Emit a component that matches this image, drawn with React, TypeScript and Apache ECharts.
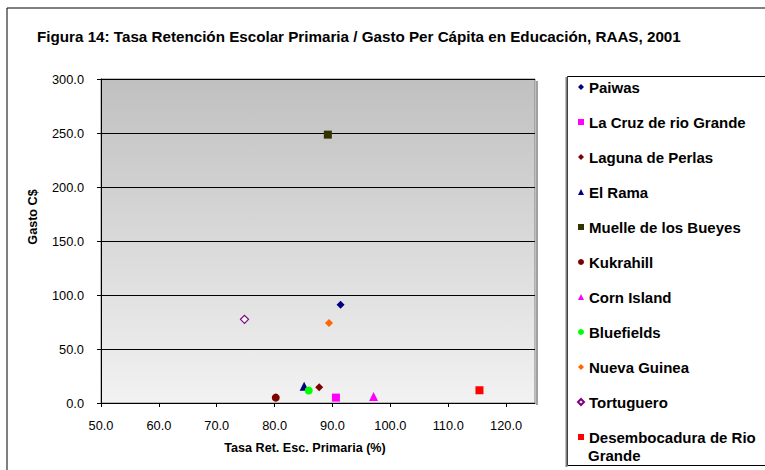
import React, { useEffect, useRef } from "react";
import * as echarts from "echarts";

const seriesNames = [
  "Paiwas",
  "La Cruz de rio Grande",
  "Laguna de Perlas",
  "El Rama",
  "Muelle de los Bueyes",
  "Kukrahill",
  "Corn Island",
  "Bluefields",
  "Nueva Guinea",
  "Tortuguero",
  "Desembocadura de Rio Grande",
];
const retentionRate = [91.4, 90.6, 87.7, 85.1, 89.2, 80.2, 97.1, 85.9, 89.4, 74.8, 115.4];
const spending = [91.0, 5.0, 14.5, 15.5, 248.5, 5.0, 6.0, 11.5, 74.0, 77.5, 11.8];
const symbols = ["diamond", "rect", "diamond", "triangle", "rect", "circle", "triangle", "circle", "diamond", "diamond", "rect"];
const colors = ["#000080", "#FF00FF", "#800000", "#000080", "#333300", "#800000", "#FF00FF", "#00FF00", "#FF6600", "#800080", "#FF0000"];
const hollow = [false, false, false, false, false, false, false, false, false, true, false];
const xTickValues = [50, 60, 70, 80, 90, 100, 110, 120];
const yTickValues = [0, 50, 100, 150, 200, 250, 300];

const FONT = "'Liberation Sans', Arial, Helvetica, sans-serif";

export default function App() {
  const ref = useRef<HTMLDivElement>(null);
  useEffect(() => {
    if (!ref.current) return;
    const chart = echarts.init(ref.current, null, { renderer: "svg" });
    const series = seriesNames.map((name, i) => ({
      name,
      type: "scatter",
      symbol: symbols[i],
      symbolSize: symbols[i] === "triangle" ? 9 : 8,
      itemStyle: hollow[i]
        ? { color: "#FFFFFF", borderColor: colors[i], borderWidth: 1.2, opacity: 1 }
        : { color: colors[i], opacity: 1 },
      data: [[retentionRate[i], spending[i]]],
      z: 5,
    }));
    chart.setOption({
      animation: false,
      backgroundColor: "#FFFFFF",
      title: {
        text: "Figura 14: Tasa Retención Escolar Primaria / Gasto Per Cápita en Educación, RAAS, 2001",
        left: 32,
        top: 24,
        textStyle: { fontFamily: FONT, fontSize: 15.2, fontWeight: "bold", color: "#000" },
      },
      grid: {
        left: 101,
        top: 79,
        width: 434,
        height: 324,
        show: true,
        borderColor: "#808080",
        borderWidth: 1,
        backgroundColor: new echarts.graphic.LinearGradient(0, 0, 0, 1, [
          { offset: 0, color: "#C0C0C0" },
          { offset: 1, color: "#F2F2F2" },
        ]),
      },
      xAxis: {
        type: "value",
        min: xTickValues[0],
        max: 125,
        interval: 10,
        axisLine: { lineStyle: { color: "#000", width: 1 } },
        axisTick: { show: true, length: 4, lineStyle: { color: "#000" } },
        splitLine: { show: false },
        axisLabel: {
          showMaxLabel: false,
          margin: 16,
          fontFamily: FONT,
          fontSize: 12.8,
          color: "#000",
          formatter: (v: number) => v.toFixed(1),
        },
      },
      yAxis: {
        type: "value",
        min: yTickValues[0],
        max: yTickValues[yTickValues.length - 1],
        interval: 50,
        axisLine: { lineStyle: { color: "#000", width: 1 } },
        axisTick: { show: true, length: 4, lineStyle: { color: "#000" } },
        splitLine: { show: true, lineStyle: { color: "#000", width: 1 } },
        axisLabel: {
          margin: 17,
          fontFamily: FONT,
          fontSize: 12.8,
          color: "#000",
          formatter: (v: number) => v.toFixed(1),
        },
      },
      legend: {
        orient: "vertical",
        left: 572,
        top: 73,
        itemWidth: 6,
        itemHeight: 6,
        itemGap: 17,
        data: seriesNames,
        formatter: (name: string) =>
          name === "Desembocadura de Rio Grande" ? "Desembocadura de Rio" : name,
        textStyle: {
          fontFamily: FONT,
          fontSize: 15,
          fontWeight: "bold",
          color: "#000",
          lineHeight: 18,
        },
      },
      graphic: [
        {
          type: "rect",
          shape: { x: 7, y: 8, width: 800, height: 500 },
          style: { fill: "none", stroke: "#000", lineWidth: 1 },
          silent: true,
          z: -1,
        },
        {
          type: "rect",
          shape: { x: 567.5, y: 76.5, width: 260, height: 389 },
          style: { fill: "#FFFFFF", stroke: "#000", lineWidth: 1 },
          silent: true,
          z: -1,
        },
        {
          type: "line",
          shape: { x1: 566.5, y1: 77, x2: 566.5, y2: 467 },
          style: { stroke: "#808080", lineWidth: 2 },
          silent: true,
        },
        {
          type: "line",
          shape: { x1: 537, y1: 81, x2: 537, y2: 405 },
          style: { stroke: "#A0A0A0", lineWidth: 2 },
          silent: true,
        },
        {
          type: "text",
          x: 588,
          y: 455,
          style: {
            text: "Grande",
            font: `bold 15px ${FONT}`,
            fill: "#000",
            verticalAlign: "middle",
          },
        },
        {
          type: "text",
          x: 305,
          y: 448,
          style: {
            text: "Tasa Ret. Esc. Primaria (%)",
            font: `bold 12.6px ${FONT}`,
            fill: "#000",
            align: "center",
            verticalAlign: "middle",
          },
        },
        {
          type: "text",
          x: 33,
          y: 217,
          rotation: Math.PI / 2,
          style: {
            text: "Gasto C$",
            font: `bold 12.6px ${FONT}`,
            fill: "#000",
            align: "center",
            verticalAlign: "middle",
          },
        },
      ],
      series,
    });
    return () => chart.dispose();
  }, []);
  return (
    <div
      ref={ref}
      style={{ position: "fixed", left: 0, top: 0, width: 765, height: 470 }}
    />
  );
}
